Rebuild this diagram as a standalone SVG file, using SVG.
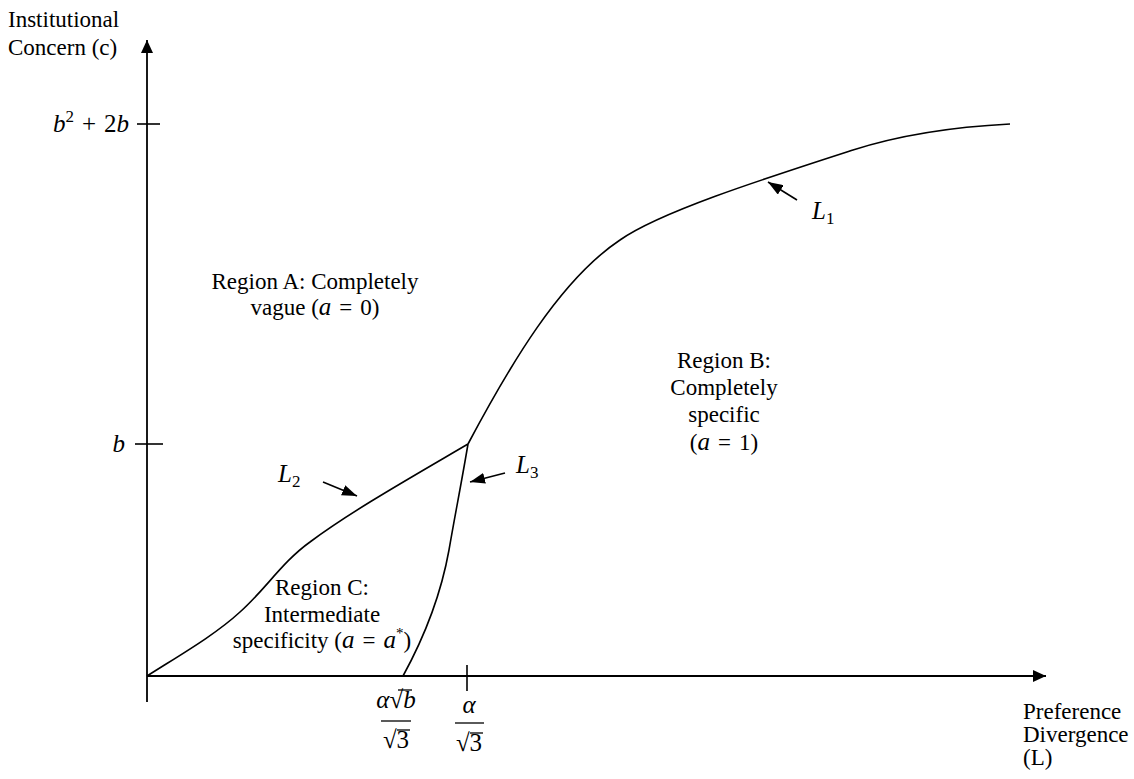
<svg xmlns="http://www.w3.org/2000/svg" width="1134" height="779" viewBox="0 0 1134 779">
<style>
.t{font-family:"Liberation Serif","Times New Roman",serif;font-size:23px;fill:#000}
.m{font-family:"Liberation Serif","Times New Roman",serif;font-size:25px;fill:#000}
.i{font-style:italic}
.ax{stroke:#000;stroke-width:1.8;fill:none}
.cv{stroke:#000;stroke-width:1.6;fill:none}
.tk{stroke:#000;stroke-width:1.6}
.fb{stroke:#000;stroke-width:1.3}
</style>
<defs>
<marker id="axh" viewBox="0 0 13 12" refX="13" refY="6" markerWidth="13" markerHeight="12" orient="auto" markerUnits="userSpaceOnUse"><path d="M0,0 L13,6 L0,12 z" fill="#000"/></marker>
<marker id="lh" viewBox="0 0 15 11" refX="15" refY="5.5" markerWidth="15" markerHeight="11" orient="auto" markerUnits="userSpaceOnUse"><path d="M0,0 L15,5.5 L0,11 z" fill="#000"/></marker>
</defs>
<rect width="1134" height="779" fill="#fff"/>

<g id="axes">
<line class="ax" x1="147" y1="702" x2="147" y2="40" marker-end="url(#axh)"/>
<line class="ax" x1="147" y1="676" x2="1046" y2="676" marker-end="url(#axh)"/>
<line class="tk" x1="137" y1="124" x2="160" y2="124"/>
<line class="tk" x1="135" y1="444" x2="163" y2="444"/>
<line class="tk" x1="467" y1="665" x2="467" y2="691"/>
</g>

<g id="axis-labels">
<text class="t" x="8" y="27" font-size="24">Institutional</text>
<text class="t" x="8" y="55" font-size="24">Concern (c)</text>
<text class="t" x="1023" y="719" font-size="22">Preference</text>
<text class="t" x="1023" y="742" font-size="22">Divergence</text>
<text class="t" x="1023" y="765" font-size="22">(L)</text>
</g>

<g id="tick-labels">
<text class="m" x="129" y="132" text-anchor="end"><tspan class="i">b</tspan><tspan font-size="17" dy="-10">2</tspan><tspan dy="10" dx="8">+</tspan><tspan dx="8">2</tspan><tspan class="i">b</tspan></text>
<text class="m i" x="125" y="452" text-anchor="end">b</text>
</g>

<g id="frac1">
<text class="m" x="396" y="708" text-anchor="middle"><tspan class="i">α</tspan>√<tspan class="i">b</tspan></text>
<line class="fb" x1="398" y1="690" x2="412" y2="690"/>
<line class="fb" x1="381" y1="721" x2="411" y2="721"/>
<text class="m" x="396" y="748" text-anchor="middle">√3</text>
<line class="fb" x1="397" y1="730" x2="410" y2="730"/>
</g>

<g id="frac2">
<text class="m i" x="469" y="713" text-anchor="middle">α</text>
<line class="fb" x1="455" y1="723" x2="484" y2="723"/>
<text class="m" x="469" y="751" text-anchor="middle">√3</text>
<line class="fb" x1="470" y1="733" x2="483" y2="733"/>
</g>

<g id="connectors">
<path id="L1" class="cv" d="M468,444 C510,365 560,280 620,240 C660,212 760,180 853,150 C900,135 950,127 1010,124"/>
<path id="L2" class="cv" d="M147,676 C180,655 215,635 240,612 C265,590 282,562 310,542 C350,512 410,478 468,444"/>
<path id="L3" class="cv" d="M403,676 C420,645 440,600 449,550 C455,515 462,480 468,444"/>
<line class="tk" x1="797" y1="200" x2="768" y2="182" marker-end="url(#lh)"/>
<line class="tk" x1="323" y1="482" x2="357" y2="496" marker-end="url(#lh)"/>
<line class="tk" x1="505" y1="473" x2="470" y2="482" marker-end="url(#lh)"/>
</g>

<g id="curve-labels">
<text class="m" x="812" y="219"><tspan class="i">L</tspan><tspan font-size="17" dy="5">1</tspan></text>
<text class="m" x="278" y="482"><tspan class="i">L</tspan><tspan font-size="17" dy="5">2</tspan></text>
<text class="m" x="516" y="473"><tspan class="i">L</tspan><tspan font-size="17" dy="5">3</tspan></text>
</g>

<g id="region-a">
<text class="t" x="315" y="289" text-anchor="middle">Region A: Completely</text>
<text class="t" x="315" y="315" text-anchor="middle">vague (<tspan class="i" font-size="25">a</tspan><tspan dx="8">=</tspan><tspan dx="8">0)</tspan></text>
</g>

<g id="region-b">
<text class="t" x="724" y="368" text-anchor="middle">Region B:</text>
<text class="t" x="724" y="395" text-anchor="middle">Completely</text>
<text class="t" x="724" y="422" text-anchor="middle">specific</text>
<text class="t" x="724" y="450" text-anchor="middle">(<tspan class="i" font-size="25">a</tspan><tspan dx="8">=</tspan><tspan dx="8">1)</tspan></text>
</g>

<g id="region-c">
<text class="t" x="322" y="595" text-anchor="middle">Region C:</text>
<text class="t" x="322" y="622" text-anchor="middle">Intermediate</text>
<text class="t" x="322" y="648" text-anchor="middle">specificity (<tspan class="i" font-size="25">a</tspan><tspan dx="8">=</tspan><tspan dx="8" class="i" font-size="25">a</tspan><tspan font-size="15" dy="-10">*</tspan><tspan dy="10">)</tspan></text>
</g>
</svg>
